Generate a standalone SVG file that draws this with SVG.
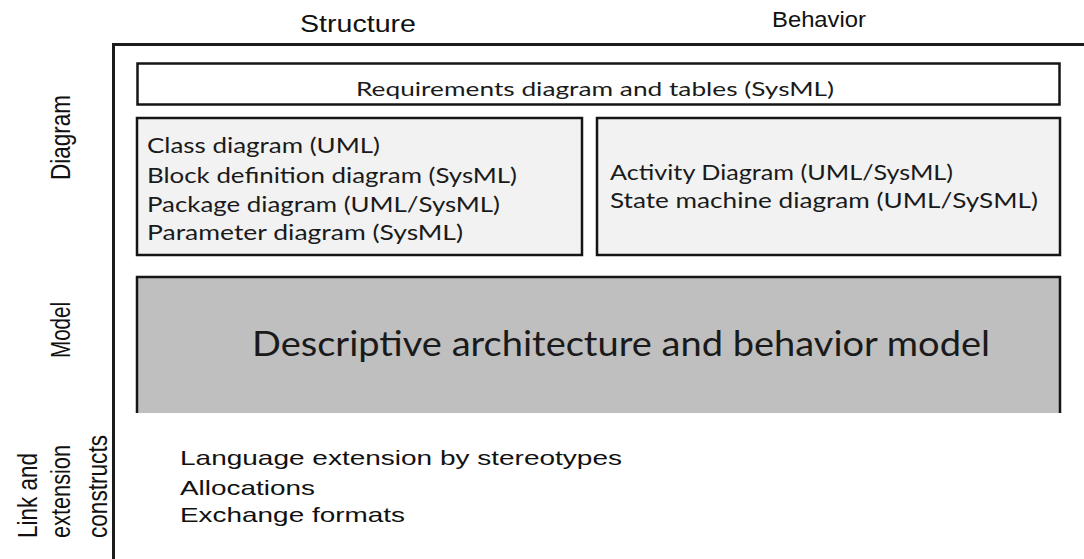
<svg xmlns="http://www.w3.org/2000/svg" width="1084" height="559" viewBox="0 0 1084 559">
  <style>
    .lbl { font-family: "Liberation Sans", Arial, sans-serif; fill: #111; }
    .box-text { font-family: Lato, "Open Sans", sans-serif; fill: #1a1a1a; }
    .frame { stroke: #1c1c1c; stroke-width: 3; fill: none; }
    .box { stroke: #151515; stroke-width: 2.5; }
  </style>
  <rect width="1084" height="559" fill="#ffffff"/>

  <!-- column headings -->
  <g id="headings">
    <text class="lbl" x="300" y="32" font-size="23" textLength="116" lengthAdjust="spacingAndGlyphs">Structure</text>
    <text class="lbl" x="772" y="27" font-size="22" textLength="94" lengthAdjust="spacingAndGlyphs">Behavior</text>
  </g>

  <!-- row headings, rotated -->
  <g id="row-labels" class="lbl" font-size="27">
    <text transform="translate(70,180) rotate(-90)" textLength="85" lengthAdjust="spacingAndGlyphs">Diagram</text>
    <text transform="translate(70,358) rotate(-90)" textLength="56" lengthAdjust="spacingAndGlyphs">Model</text>
    <text transform="translate(37,538) rotate(-90)" textLength="85" lengthAdjust="spacingAndGlyphs">Link and</text>
    <text transform="translate(70,538) rotate(-90)" textLength="93" lengthAdjust="spacingAndGlyphs">extension</text>
    <text transform="translate(107,538) rotate(-90)" textLength="103" lengthAdjust="spacingAndGlyphs">constructs</text>
  </g>

  <!-- outer frame: top and left edges -->
  <g id="frame">
    <path class="frame" d="M113.5,559 V44.5 H1084"/>
  </g>

  <g id="requirements">
    <rect class="box" x="137.5" y="63.5" width="922" height="41" fill="#ffffff" stroke-width="3"/>
    <text class="box-text" x="356" y="95.5" font-size="19" textLength="478" lengthAdjust="spacingAndGlyphs">Requirements diagram and tables (SysML)</text>
  </g>

  <g id="structure-diagrams">
    <rect class="box" x="137" y="118" width="445" height="137" fill="#f2f2f2"/>
    <g class="box-text" font-size="21">
      <text x="147" y="153" textLength="233" lengthAdjust="spacingAndGlyphs">Class diagram (UML)</text>
      <text x="147" y="183" textLength="370" lengthAdjust="spacingAndGlyphs">Block definition diagram (SysML)</text>
      <text x="147" y="212" textLength="353" lengthAdjust="spacingAndGlyphs">Package diagram (UML/SysML)</text>
      <text x="147" y="240" textLength="316" lengthAdjust="spacingAndGlyphs">Parameter diagram (SysML)</text>
    </g>
  </g>

  <g id="behavior-diagrams">
    <rect class="box" x="597" y="118" width="463" height="137" fill="#f2f2f2"/>
    <g class="box-text" font-size="21">
      <text x="610" y="180" textLength="343" lengthAdjust="spacingAndGlyphs">Activity Diagram (UML/SysML)</text>
      <text x="610" y="208" textLength="428" lengthAdjust="spacingAndGlyphs">State machine diagram (UML/SySML)</text>
    </g>
  </g>

  <g id="model">
    <rect x="137" y="277" width="923" height="136" fill="#bfbfbf"/>
    <path class="box" d="M137,413 V277 H1060 V413" fill="none" stroke-width="3"/>
    <text class="box-text" x="252" y="356" font-size="34" textLength="738" lengthAdjust="spacingAndGlyphs">Descriptive architecture and behavior model</text>
  </g>

  <g id="constructs" class="lbl" font-size="21">
    <text x="180" y="465" textLength="442" lengthAdjust="spacingAndGlyphs">Language extension by stereotypes</text>
    <text x="180" y="495" textLength="135" lengthAdjust="spacingAndGlyphs">Allocations</text>
    <text x="180" y="522" textLength="225" lengthAdjust="spacingAndGlyphs">Exchange formats</text>
  </g>

  <!-- no connectors in this figure -->
  <g id="connectors"/>
</svg>
